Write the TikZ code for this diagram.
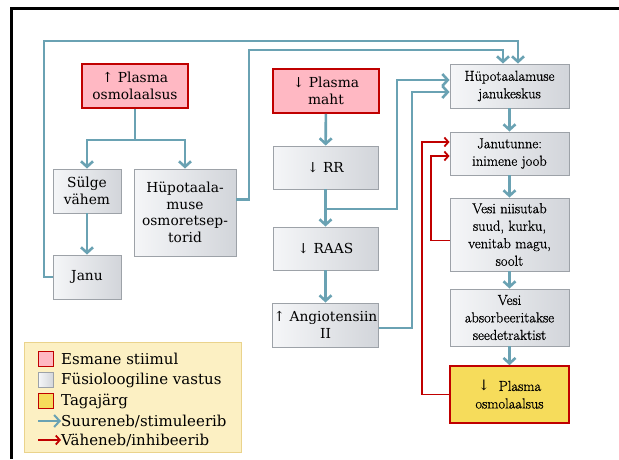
\documentclass[tikz,border=0pt]{standalone}
\usepackage{fontspec}
\newfontfamily\georgiafam{DejaVu Serif}
\newfontfamily\timesfam{Latin Modern Roman}[FakeBold=0.8]
\usetikzlibrary{arrows.meta}

\definecolor{tealline}{HTML}{6AA2B3}
\definecolor{redline}{HTML}{C00000}
\definecolor{pinkfill}{HTML}{FFB8C3}
\definecolor{yellowfill}{HTML}{F6DC5B}
\definecolor{greyborder}{HTML}{9DA2A8}
\definecolor{greyleft}{HTML}{F5F6F8}
\definecolor{greyright}{HTML}{D2D5DA}
\definecolor{legendfill}{HTML}{FCF0C3}
\definecolor{legendborder}{HTML}{EAD38C}

\newcommand{\boxtxt}{\georgiafam\fontsize{13.8}{16.5}\selectfont}
\newcommand{\coltxt}{\timesfam\fontsize{14.5}{17.5}\selectfont}
\newcommand{\legtxt}{\georgiafam\fontsize{15}{20}\selectfont}

\tikzset{
  resp/.style={draw=greyborder, line width=0.9pt, left color=greyleft, right color=greyright, align=center, inner sep=1pt},
  stim/.style={draw=redline, line width=1.6pt, fill=pinkfill, align=center, inner sep=1pt},
  outcome/.style={draw=redline, line width=1.6pt, fill=yellowfill, align=center, inner sep=1pt},
  up/.style={draw=tealline, line width=2.6pt, -{Straight Barb[length=5.5pt,width=12pt]}},
  down/.style={draw=redline, line width=1.8pt, -{Straight Barb[length=4pt,width=9pt]}}
}

\begin{document}
\begin{tikzpicture}[x=1pt,y=-1pt]
  \useasboundingbox (0,0) rectangle (619,459);
  \draw[line width=2.6pt] (619,8.5) -- (11.3,8.5) -- (11.3,459);

  % left branch
  \node[stim, minimum width=106pt, minimum height=44pt, font=\boxtxt] (PO)   at (135,86)    {↑ Plasma\\osmolaalsus};
  \node[resp, minimum width=68pt,  minimum height=44pt, font=\boxtxt] (SV)   at (87,191)    {Sülge\\vähem};
  \node[resp, minimum width=102pt, minimum height=87pt, font=\boxtxt] (HO)   at (185,212.5) {Hüpotaala-\\muse\\osmoretsep-\\torid};
  \node[resp, minimum width=68pt,  minimum height=44pt, font=\boxtxt] (JANU) at (87,277)    {Janu};

  % middle branch
  \node[stim, minimum width=106pt, minimum height=44pt, font=\boxtxt] (PM)   at (326,91)    {↓ Plasma\\maht};
  \node[resp, minimum width=105pt, minimum height=43pt, font=\boxtxt] (RR)   at (325.5,167.5) {↓ RR};
  \node[resp, minimum width=105pt, minimum height=43pt, font=\boxtxt] (RAAS) at (325.5,248.5) {↓ RAAS};
  \node[resp, minimum width=105pt, minimum height=44pt, font=\boxtxt] (ANG)  at (325.5,325)   {↑ Angiotensiin\\II};

  % right column
  \node[resp, minimum width=119pt, minimum height=44pt, font=\coltxt] (JK) at (509.5,86)    {Hüpotaalamuse\\janukeskus};
  \node[resp, minimum width=119pt, minimum height=43pt, font=\coltxt] (JT) at (509.5,153.5) {Janutunne:\\inimene joob};
  \node[resp, minimum width=119pt, minimum height=73pt, font=\coltxt] (VN) at (509.5,234.5) {Vesi niisutab\\suud, kurku,\\venitab magu,\\soolt};
  \node[resp, minimum width=119pt, minimum height=57pt, font=\coltxt] (VA) at (509.5,317.5) {Vesi\\absorbeeritakse\\seedetraktist};
  \node[outcome, minimum width=119pt, minimum height=57pt, font=\coltxt] (YO) at (509.5,394.5) {{\georgiafam ↓}\ \ Plasma\\osmolaalsus};

  \coordinate (SPLIT) at (135,140);
  \draw[up] (PO) -- (SPLIT) -| (SV);
  \draw[up] (SPLIT) -| (HO);
  \draw[up] (SV) -- (JANU);

  \coordinate (LOOP1) at (44,41);
  \draw[up] (JANU.west) -| (LOOP1) -| ([xshift=8.5pt]JK.north);
  \coordinate (LOOP2) at (249,50);
  \draw[up] ([yshift=13pt]HO.east) -| (LOOP2) -| ([xshift=-6.5pt]JK.north);

  \draw[up] (PM) -- (RR);
  \draw[up] (RR) -- (RAAS);
  \draw[up] (RAAS) -- (ANG);

  \coordinate (BR) at (325.5,209);
  \coordinate (C3) at (397,80);
  \draw[up] (BR) -| (C3) -- (JK.west |- C3);
  \coordinate (C4) at (412,92);
  \draw[up] ([yshift=-3pt]ANG.east) -| (C4) -- (JK.west |- C4);

  \draw[up] (JK) -- (JT);
  \draw[up] (JT) -- (VN);
  \draw[up] (VN) -- (VA);
  \draw[up] (VA) -- (YO);

  \coordinate (C5) at (422,142);
  \draw[down] (YO.west) -| (C5) -- (JT.west |- C5);
  \coordinate (C6) at (431,156);
  \draw[down] ([yshift=-6pt]VN.west) -| (C6) -- (JT.west |- C6);

  % legend
  \node[draw=legendborder, line width=1pt, fill=legendfill, minimum width=217pt, minimum height=110pt] (LEG) at (132.5,397) {};
  \node[stim,    minimum size=15pt, inner sep=0pt] (LS1) at (46,359) {};
  \node[resp,    minimum size=15pt, inner sep=0pt] (LS2) at (46,380) {};
  \node[outcome, minimum size=15pt, inner sep=0pt] (LS3) at (46,401) {};
  \node[anchor=west, inner sep=0pt, font=\legtxt] (LT1) at (61,359) {Esmane stiimul};
  \node[anchor=west, inner sep=0pt, font=\legtxt] (LT2) at (61,380) {Füsioloogiline vastus};
  \node[anchor=west, inner sep=0pt, font=\legtxt] (LT3) at (61,401) {Tagajärg};
  \node[anchor=west, inner sep=0pt, font=\legtxt] (LT4) at (61,421) {Suureneb/stimuleerib};
  \node[anchor=west, inner sep=0pt, font=\legtxt] (LT5) at (61,440) {Väheneb/inhibeerib};
  \coordinate (LA4) at (38,421);
  \coordinate (LA5) at (38,440);
  \draw[up, line width=2pt] (LA4) -- (LT4);
  \draw[down] (LA5) -- (LT5);
\end{tikzpicture}
\end{document}
